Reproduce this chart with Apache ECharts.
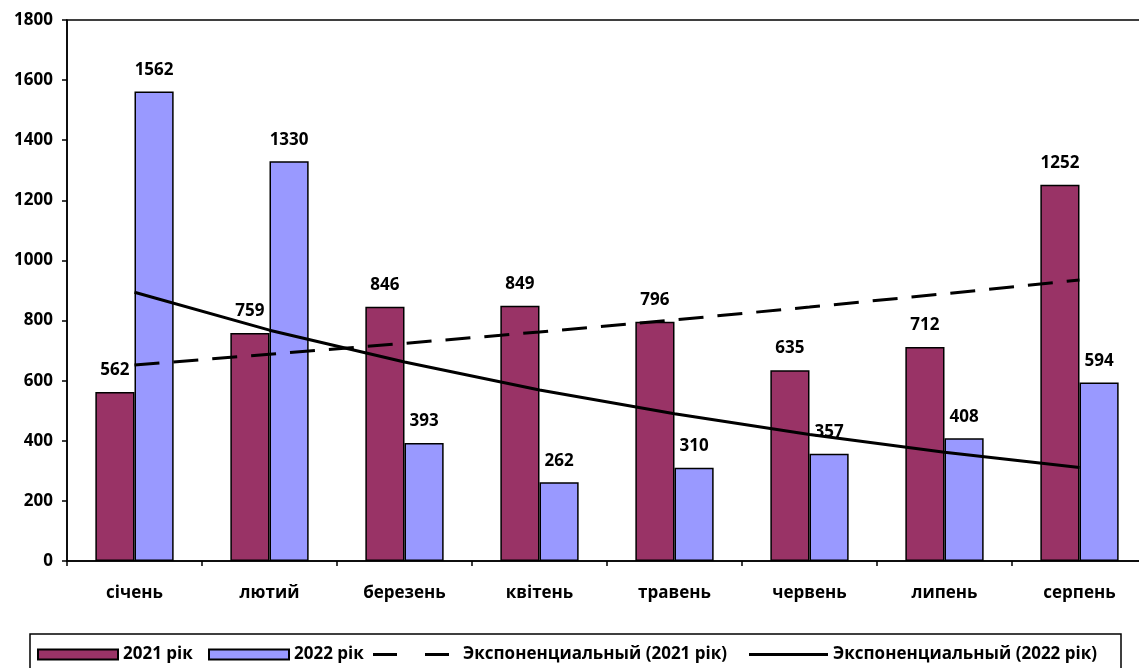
<!DOCTYPE html>
<html><head><meta charset="utf-8">
<script src="https://cdn.jsdelivr.net/npm/echarts@6/dist/echarts.min.js"></script>
<style>html,body{margin:0;padding:0;background:#fff;overflow:hidden;width:1139px;height:668px}#c{width:1150px;height:668px}</style>
</head><body><div id="c"></div>
<script>
const categories = ['січень','лютий','березень','квітень','травень','червень','липень','серпень'];
const values2021 = [562, 759, 846, 849, 796, 635, 712, 1252];
const values2022 = [1562, 1330, 393, 262, 310, 357, 408, 594];
const trend2021 = [652, 688, 724, 762, 802, 845, 889, 935];
const trend2022 = [894, 768, 662, 569, 490, 421, 362, 311];
const yTicks = [0, 200, 400, 600, 800, 1000, 1200, 1400, 1600, 1800];
const names = ['2021 рік', '2022 рік', 'Экспоненциальный (2021 рік)', 'Экспоненциальный (2022 рік)'];

const FONT = '"Open Sans", Lato, sans-serif';
const chart = echarts.init(document.getElementById('c'), null, {renderer: 'canvas'});
const lbl = {show: true, position: 'top', distance: 13, fontFamily: FONT, fontWeight: 'bold', fontSize: 17, color: '#000'};
const legText = {fontFamily: FONT, fontWeight: 'bold', fontSize: 17, color: '#000'};
function leg(name, left, w, h, icon, padLeft) {
  return {left: left, top: 646, itemWidth: w, itemHeight: h, icon: icon, padding: 0,
    textStyle: Object.assign({}, legText, {padding: [0, 0, 0, padLeft]}), data: [name], selectedMode: false};
}
chart.setOption({
  animation: false,
  backgroundColor: '#fff',
  grid: {left: 67, top: 20, width: 1080, height: 541, show: true, borderColor: '#000', borderWidth: 1.5, containLabel: false},
  xAxis: {
    type: 'category', data: categories,
    axisLine: {lineStyle: {color: '#000', width: 1.5}},
    axisTick: {show: true, length: 5, lineStyle: {color: '#000', width: 1.5}},
    axisLabel: {margin: 24, fontFamily: FONT, fontWeight: 'bold', fontSize: 17, color: '#000'}
  },
  yAxis: {
    type: 'value', min: yTicks[0], max: yTicks[yTicks.length - 1], interval: 200,
    axisLine: {show: true, lineStyle: {color: '#000', width: 1.5}},
    axisTick: {show: true, length: 5, lineStyle: {color: '#000', width: 1.5}},
    splitLine: {show: false},
    axisLabel: {margin: 14, fontFamily: FONT, fontWeight: 'bold', fontSize: 17, color: '#000', formatter: v => String(v)}
  },
  legend: [
    leg(names[0], 37, 80, 10, 'rect', 0),
    leg(names[1], 208, 80, 10, 'rect', 0),
    leg(names[2], 373, 76, 3, 'path://M0,0h24v3h-24z M52,0h24v3h-24z', 9),
    leg(names[3], 749, 79, 3, 'rect', 0)
  ],
  graphic: [{type: 'rect', shape: {x: 30, y: 634, width: 1091, height: 40}, style: {fill: 'none', stroke: '#000', lineWidth: 1.5}, silent: true}],
  series: [
    {name: names[0], type: 'bar', data: values2021, barGap: '0%', barCategoryGap: '42%',
     itemStyle: {color: '#993366', borderColor: '#000', borderWidth: 1.5}, label: lbl},
    {name: names[1], type: 'bar', data: values2022,
     itemStyle: {color: '#9999FF', borderColor: '#000', borderWidth: 1.5}, label: lbl},
    {name: names[2], type: 'line', data: trend2021, symbol: 'none', z: 5,
     lineStyle: {color: '#000', width: 3, type: [25, 14]}, itemStyle: {color: '#000'}},
    {name: names[3], type: 'line', data: trend2022, symbol: 'none', z: 5,
     lineStyle: {color: '#000', width: 3, type: 'solid'}, itemStyle: {color: '#000'}}
  ]
});
</script></body></html>
